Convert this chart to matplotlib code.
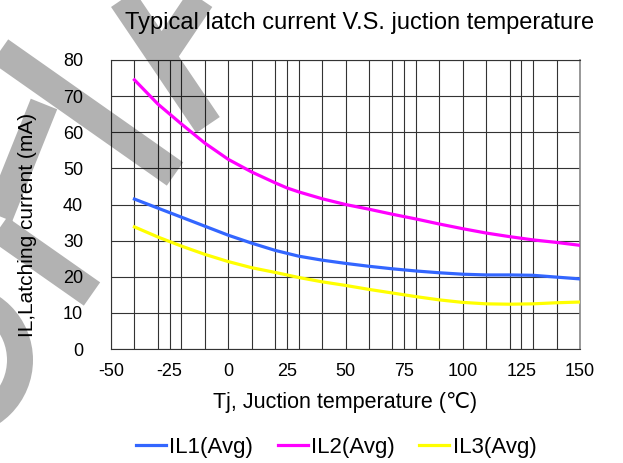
import matplotlib
matplotlib.use("Agg")
import matplotlib.pyplot as plt
from matplotlib.path import Path
from matplotlib.patches import PathPatch, Circle

plt.rcParams['font.family'] = ['Liberation Sans', 'DejaVu Sans']

# temperaturas (°C)
tj = [-40, -30, -20, -10, 0, 10, 20, 25, 30, 40, 50, 60, 70, 80, 90, 100, 110, 120, 130, 140, 150]

# correntes de latch (mA)
il1 = [41.5, 39.0, 36.5, 34.0, 31.5, 29.3, 27.3, 26.5, 25.7, 24.6, 23.7, 22.9, 22.2, 21.6, 21.1, 20.7, 20.5, 20.5, 20.4, 19.9, 19.4]
il2 = [74.5, 67.8, 62.3, 57.0, 52.5, 49.0, 46.0, 44.6, 43.5, 41.6, 40.0, 38.7, 37.3, 36.0, 34.6, 33.3, 32.1, 31.1, 30.2, 29.5, 28.7]
il3 = [33.8, 31.0, 28.5, 26.2, 24.2, 22.5, 21.2, 20.5, 19.8, 18.6, 17.6, 16.5, 15.5, 14.5, 13.6, 12.9, 12.5, 12.4, 12.5, 12.8, 13.0]

series = [('IL1(Avg)', il1, '#3366ff'),
          ('IL2(Avg)', il2, '#ff00ff'),
          ('IL3(Avg)', il3, '#ffff00')]

xticks = [-50, -25, 0, 25, 50, 75, 100, 125, 150]
yticks = [0, 10, 20, 30, 40, 50, 60, 70, 80]

fig = plt.figure(figsize=(6.23, 4.63), dpi=100)
ax = fig.add_axes([111 / 623, 1 - 349 / 463, 469 / 623, 289 / 463])

for nome, vals, cor in series:
    ax.plot(tj, vals, color=cor, lw=2.3, label=nome, zorder=3)

ax.set_xlim(-50, 150)
ax.set_ylim(0, 80)
ax.set_xticks(xticks)
ax.set_xticks(range(-40, 150, 10), minor=True)
ax.set_yticks(yticks)
ax.set_xticklabels([str(t) for t in xticks], fontsize=13)
ax.set_yticklabels([str(t) for t in yticks], fontsize=13)
ax.tick_params(which='both', length=0)
ax.tick_params(axis='x', pad=10)
ax.tick_params(axis='y', pad=20)
ax.grid(True, which='both', color='#333333', lw=0.8)
ax.set_axisbelow(True)
for lado in ['left', 'bottom', 'top']:
    ax.spines[lado].set_color('#333333')
    ax.spines[lado].set_linewidth(0.8)
ax.spines['right'].set_color('#888888')
ax.spines['right'].set_linewidth(1.2)

ax.set_title('Typical latch current V.S. juction temperature', fontsize=17, x=0.53, y=1.0, pad=22)
ax.set_xlabel('Tj, Juction temperature (℃)', fontsize=15.5, labelpad=9)
ax.set_ylabel('IL,Latching current (mA)', fontsize=15)
ax.yaxis.set_label_coords(-0.158, 0.43)

ax.legend(loc='center', bbox_to_anchor=(0.48, -0.34), ncol=3, frameon=False,
          fontsize=16, handlelength=1.35, handletextpad=0.15, columnspacing=1.1)

# marca d'agua cinza (coordenadas em pixels da imagem)
def px(x, y):
    return (x / 100, (463 - y) / 100)

verts = [px(0, 51), px(175, 174),
         px(44, 104), px(-5, 226), px(92, 294),
         px(112, -17), px(208, 125),
         px(212, -18), px(162, 56)]
codes = [Path.MOVETO, Path.LINETO,
         Path.MOVETO, Path.LINETO, Path.LINETO,
         Path.MOVETO, Path.LINETO,
         Path.MOVETO, Path.LINETO]
marca = PathPatch(Path(verts, codes), fill=False, edgecolor='black', alpha=0.3,
                  lw=20.5, capstyle='butt', joinstyle='miter',
                  transform=fig.dpi_scale_trans, zorder=5)
fig.add_artist(marca)
anel = Circle(px(-43.6, 360), 63.6 / 100, fill=False, edgecolor='black', alpha=0.3,
              lw=26 * 0.72, transform=fig.dpi_scale_trans, zorder=5)
fig.add_artist(anel)

fig.savefig('out.png', dpi=100)
